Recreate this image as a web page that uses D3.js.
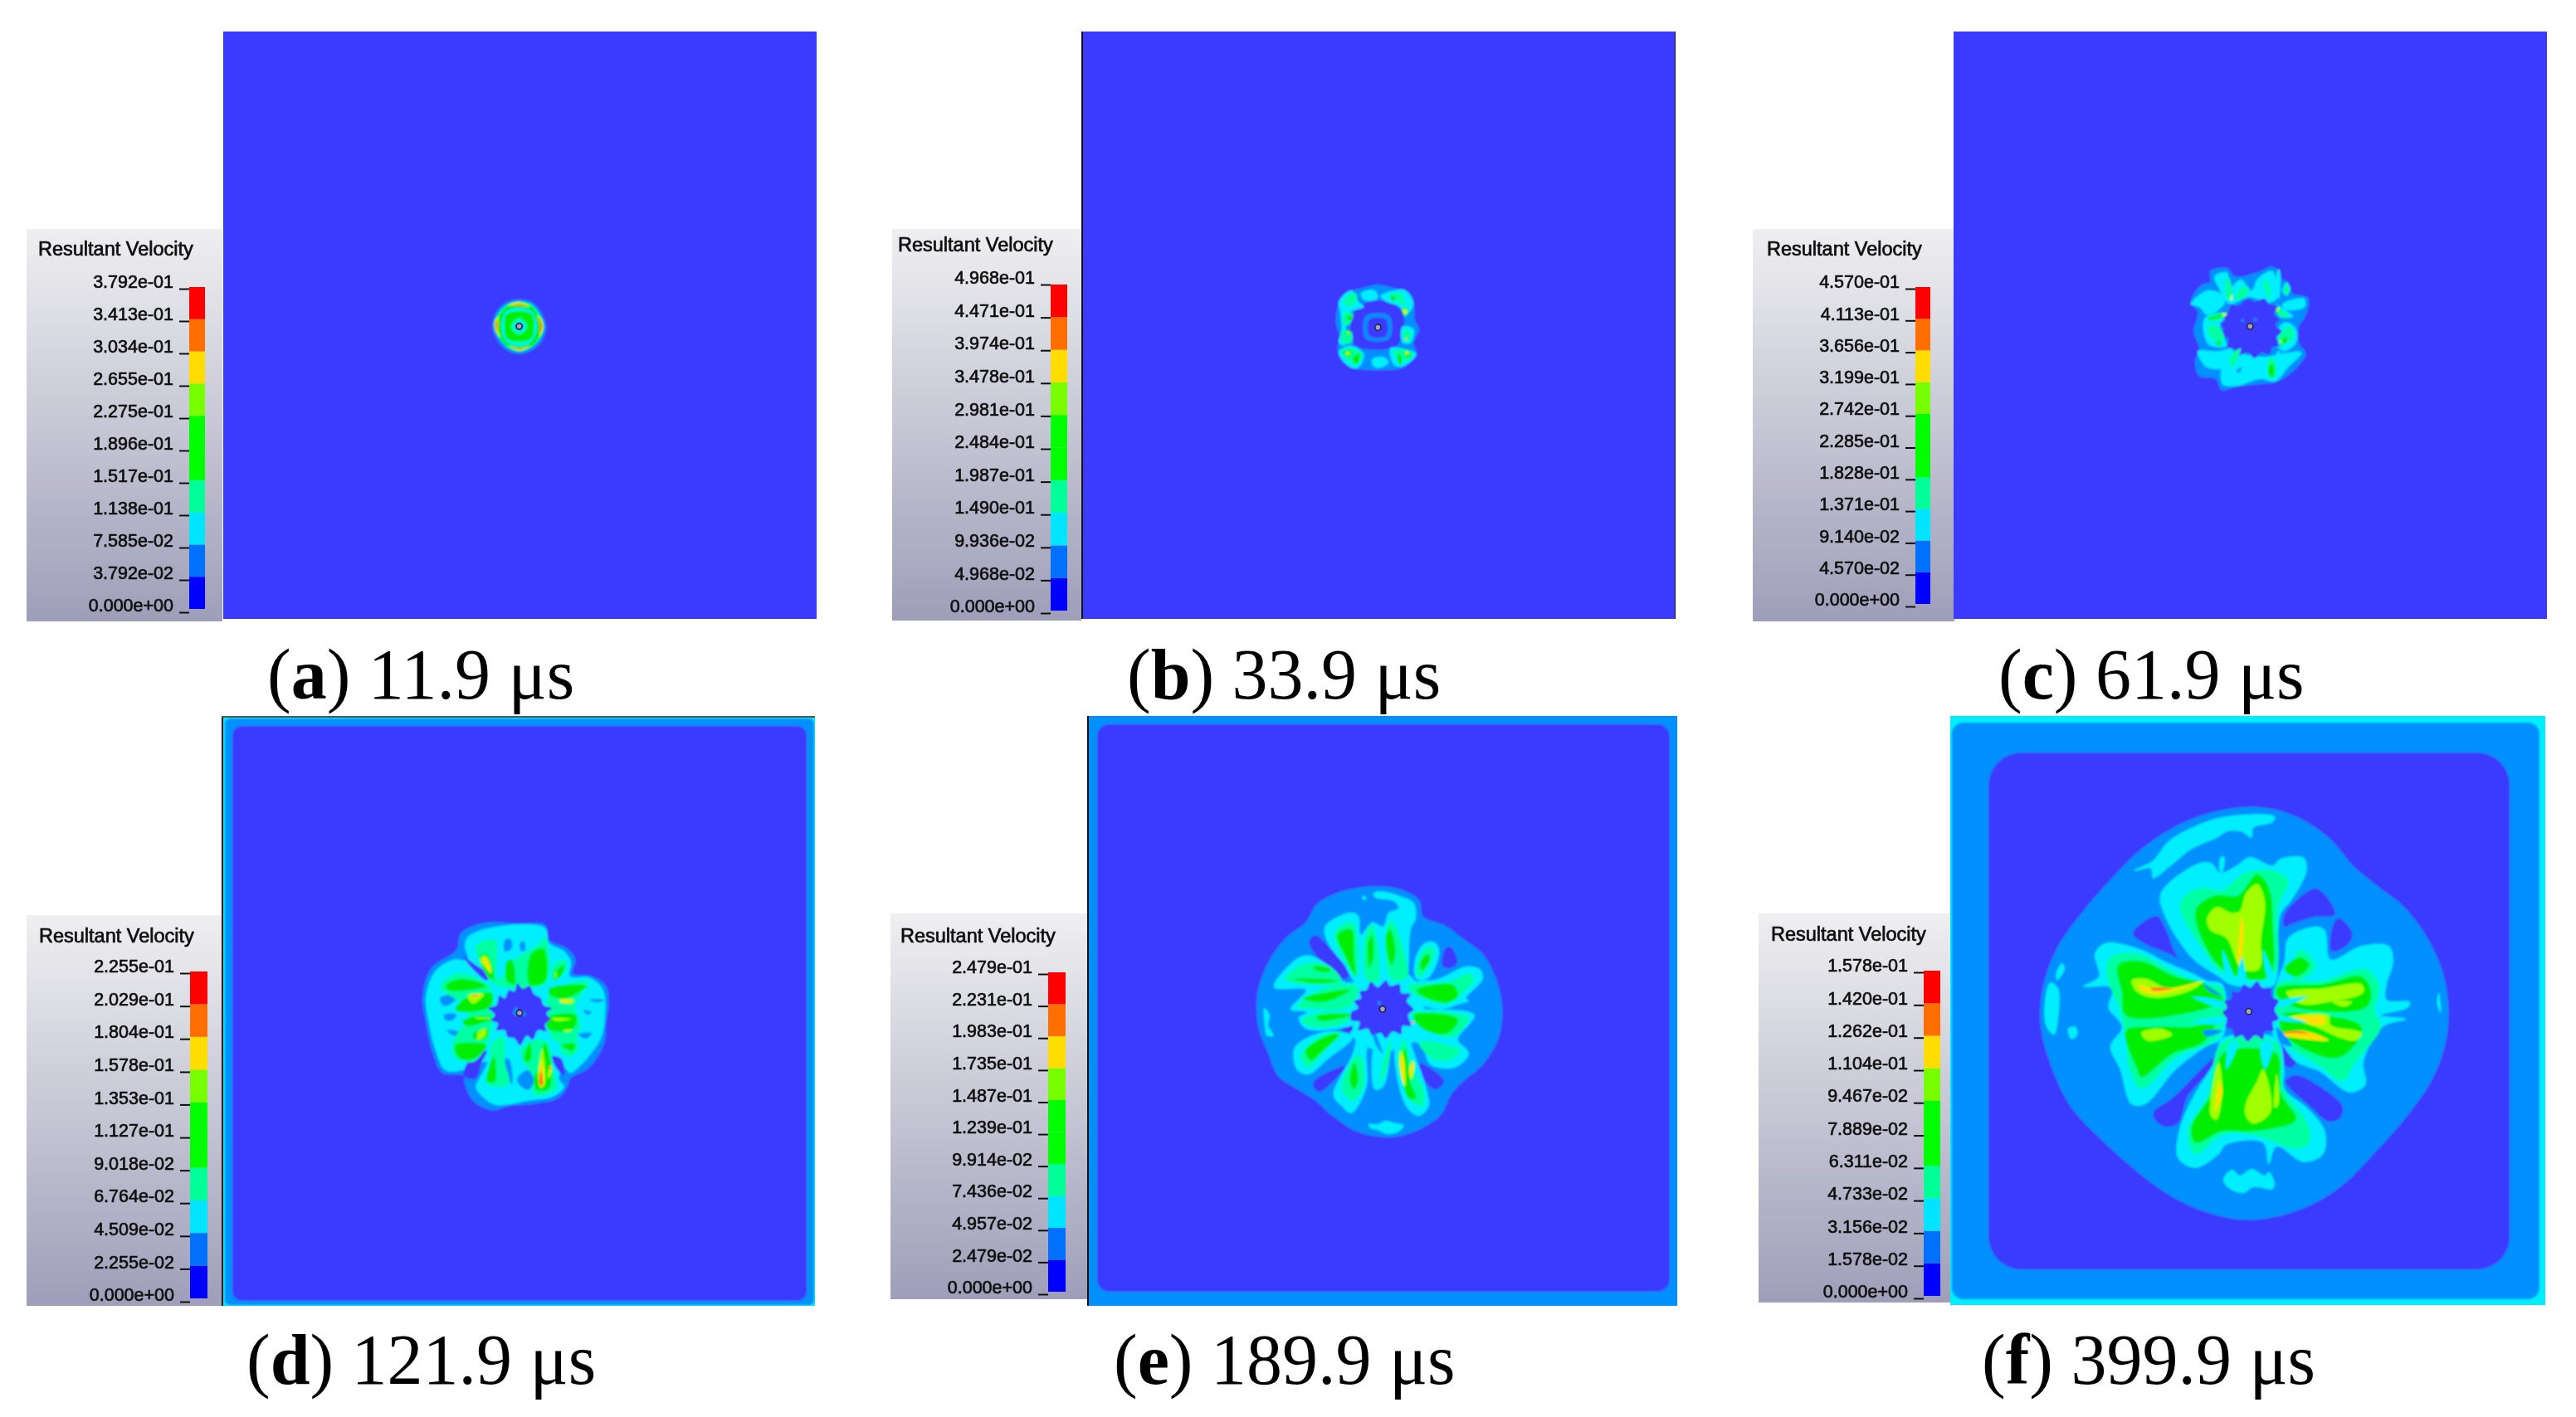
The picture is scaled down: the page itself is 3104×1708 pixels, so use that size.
<!DOCTYPE html>
<html>
<head>
<meta charset="utf-8">
<title>Resultant velocity</title>
<script src="https://cdn.jsdelivr.net/npm/d3@7"></script>
<style>
  body { margin: 0; background: #fff; }
  svg { display: block; }
</style>
</head>
<body>
<div id="chart"></div>
<script>
// legend labels, top to bottom
const labelsA = ["3.792e-01","3.413e-01","3.034e-01","2.655e-01","2.275e-01","1.896e-01","1.517e-01","1.138e-01","7.585e-02","3.792e-02","0.000e+00"];
const labelsB = ["4.968e-01","4.471e-01","3.974e-01","3.478e-01","2.981e-01","2.484e-01","1.987e-01","1.490e-01","9.936e-02","4.968e-02","0.000e+00"];
const labelsC = ["4.570e-01","4.113e-01","3.656e-01","3.199e-01","2.742e-01","2.285e-01","1.828e-01","1.371e-01","9.140e-02","4.570e-02","0.000e+00"];
const labelsD = ["2.255e-01","2.029e-01","1.804e-01","1.578e-01","1.353e-01","1.127e-01","9.018e-02","6.764e-02","4.509e-02","2.255e-02","0.000e+00"];
const labelsE = ["2.479e-01","2.231e-01","1.983e-01","1.735e-01","1.487e-01","1.239e-01","9.914e-02","7.436e-02","4.957e-02","2.479e-02","0.000e+00"];
const labelsF = ["1.578e-01","1.420e-01","1.262e-01","1.104e-01","9.467e-02","7.889e-02","6.311e-02","4.733e-02","3.156e-02","1.578e-02","0.000e+00"];

const letters = ["a", "b", "c", "d", "e", "f"];
const times = ["11.9", "33.9", "61.9", "121.9", "189.9", "399.9"];

// legend cells, lowest band first
const legendColors = ["#0000ff","#0070ff","#00e5ff","#00ff99","#00ff00","#00ff00","#77ff00","#ffdd00","#ff6e00","#ff0000"];
// band colours as they look on the lit plate, 0 = rest
const bandColors = ["#3a3aff","#0090ff","#00eeff","#00ffa0","#00ee00","#a0ff00","#ffe000","#ff7a20","#ff3030"];

// contour outlines per frame: band, then x,y pairs in trace units, painted in order
const contoursA = [
  [1, 197,63, 245,74, 275,108, 294,160, 280,210, 243,246, 197,260, 152,246, 118,210, 100,160, 115,108, 150,74],
  [3, 197,70, 240,80, 268,112, 286,160, 272,205, 238,238, 197,252, 156,238, 126,205, 108,160, 122,112, 156,80],
  [4, 150,92, 197,76, 245,92, 262,118, 278,160, 268,200, 240,232, 197,246, 155,232, 128,200, 112,160, 128,118],
  [2, 197,92, 240,105, 262,160, 240,215, 197,232, 152,215, 132,160, 152,105],
  [3, 197,100, 234,112, 254,160, 234,208, 197,224, 158,208, 140,160, 158,112],
  [4, 150,118, 197,106, 244,118, 250,160, 242,204, 197,214, 152,204, 144,160],
  [3, 197,128, 228,160, 197,192, 166,160],
  [2, 197,140, 218,160, 197,181, 176,160],
  [1, 197,146, 212,160, 197,175, 182,160],
  [5, 155,85, 195,72, 238,90, 200,84],
  [6, 160,85, 195,76, 232,90, 198,82],
  [8, 170,84, 195,80, 225,88, 198,84],
  [5, 155,228, 200,240, 240,228, 200,248],
  [7, 160,232, 200,241, 232,230, 200,245],
  [5, 108,140, 122,125, 122,175, 130,200, 112,180],
  [7, 112,148, 120,138, 118,175, 124,190, 114,175],
  [5, 262,120, 275,130, 285,165, 268,200, 275,160],
  [7, 265,125, 278,150, 280,165, 270,190, 272,160]
];
const contoursB = [
  [1, 130,80, 180,70, 250,85, 295,100, 310,140, 315,200, 330,230, 310,280, 320,320, 270,370, 190,378, 90,370, 50,340, 35,300, 45,260, 30,210, 40,140, 80,95],
  [0, 100,160, 180,125, 265,160, 275,240, 250,290, 180,305, 100,290, 80,240],
  [1, 138,182, 222,182, 222,265, 138,265],
  [0, 150,195, 210,195, 210,255, 150,255],
  [2, 40,130, 85,90, 110,130, 130,150, 80,170, 65,230, 60,290, 40,280, 50,230, 45,170],
  [2, 120,100, 170,90, 180,120, 130,125],
  [2, 190,110, 240,90, 280,90, 310,140, 280,180, 260,150, 210,130],
  [2, 270,220, 310,230, 300,280, 270,280],
  [2, 40,310, 80,290, 130,320, 110,370, 85,370, 50,340],
  [2, 225,300, 270,300, 320,320, 270,365, 240,360],
  [2, 160,340, 200,330, 220,350, 190,370, 165,365],
  [3, 60,120, 100,100, 105,130, 70,150],
  [3, 220,110, 265,100, 280,145, 250,130],
  [3, 60,170, 90,175, 75,215, 55,210],
  [3, 50,235, 85,240, 85,280, 55,280],
  [3, 270,150, 295,160, 280,185],
  [3, 45,310, 90,300, 125,320, 100,360],
  [3, 275,235, 300,240, 295,275, 275,270],
  [3, 235,310, 290,305, 310,325, 270,350],
  [4, 55,312, 88,310, 78,328],
  [4, 68,183, 92,186, 76,199],
  [4, 68,238, 84,241, 73,252],
  [4, 225,110, 245,115, 235,130],
  [4, 268,158, 287,160, 276,182],
  [4, 90,335, 115,320, 105,360],
  [4, 250,325, 265,325, 262,365],
  [4, 278,310, 300,320, 285,332],
  [5, 64,314, 82,316, 70,323],
  [5, 270,160, 287,164, 278,177],
  [6, 66,315, 80,317, 71,321],
  [6, 272,162, 285,165, 278,174],
  [6, 72,240, 80,243, 74,246],
  [7, 280,262, 288,265, 284,271],
  [6, 281,311, 293,318, 285,323]
];
const contoursC = [
  [1, 70,50, 130,40, 160,70, 240,55, 300,35, 330,80, 350,90, 365,130, 425,150, 410,220, 390,250, 390,310, 415,350, 360,420, 310,450, 240,460, 160,470, 110,480, 90,440, 30,430, 15,380, 30,330, 10,270, 25,200, 0,160, 40,100, 70,90],
  [2, 85,70, 130,55, 140,110, 180,80, 220,120, 240,80, 295,50, 310,150, 280,165, 210,145, 140,170, 100,110],
  [2, 0,170, 60,120, 120,140, 120,170, 60,210, 30,180],
  [2, 330,170, 410,150, 412,180, 340,190],
  [2, 320,250, 345,235, 380,260, 380,310, 340,340, 310,320],
  [2, 330,120, 345,90, 360,115, 345,140],
  [2, 25,340, 100,340, 150,330, 120,400, 60,400, 40,380],
  [2, 50,220, 120,210, 105,260, 130,320, 70,320, 50,290],
  [2, 110,400, 130,340, 190,350, 270,360, 320,350, 400,345, 350,400, 305,450, 250,440, 170,465, 115,460],
  [2, 305,170, 340,190, 370,215, 320,215],
  [2, 313,45, 320,45, 318,150, 313,150],
  [2, 313,340, 320,340, 318,425, 313,425],
  [0, 105,240, 125,225, 110,200, 135,195, 145,170, 170,175, 205,150, 230,160, 265,150, 285,170, 315,175, 300,205, 320,225, 305,245, 330,270, 310,290, 325,320, 295,325, 285,350, 255,345, 230,365, 205,345, 170,355, 160,335, 130,325, 135,295, 100,280, 118,260],
  [1, 180,225, 195,228, 185,235],
  [1, 232,218, 240,228, 225,232],
  [1, 175,402, 185,398, 172,420, 165,410],
  [3, 125,100, 135,70, 150,140, 130,150],
  [3, 180,110, 210,110, 190,150, 160,150],
  [3, 260,100, 275,80, 290,150],
  [3, 60,215, 130,200, 110,225, 70,230],
  [3, 60,250, 100,250, 120,300, 80,300],
  [3, 320,280, 360,250, 370,290, 320,320],
  [3, 275,380, 295,360, 310,420, 290,440],
  [3, 310,180, 335,195, 360,215, 320,215],
  [3, 140,360, 180,330, 150,400],
  [3, 335,110, 350,100, 355,125, 340,135],
  [4, 60,225, 120,205, 105,217, 70,227],
  [4, 90,310, 110,305, 105,322],
  [4, 325,300, 350,290, 340,312],
  [4, 280,400, 295,385, 300,430, 285,430],
  [4, 308,183, 325,195, 312,200],
  [5, 112,204, 132,207, 118,213],
  [5, 142,152, 150,135, 149,157],
  [6, 143,150, 148,138, 148,154],
  [6, 114,206, 130,208, 118,211],
  [6, 311,192, 318,184, 316,197],
  [5, 319,303, 331,300, 322,310]
];
const contoursD = [
  [1, 330,35, 430,40, 530,45, 545,100, 610,130, 640,170, 630,220, 700,230, 750,265, 760,320, 750,410, 745,470, 690,560, 620,600, 615,620, 580,670, 500,690, 400,700, 340,715, 270,680, 240,620, 235,590, 160,580, 125,510, 100,400, 88,300, 120,200, 210,135, 225,75, 280,45],
  [2, 250,90, 330,55, 530,55, 545,110, 600,140, 625,180, 620,230, 690,235, 740,280, 745,400, 730,460, 680,530, 620,580, 600,560, 580,600, 600,630, 560,665, 470,680, 350,695, 290,650, 280,630, 320,540, 235,570, 170,570, 135,500, 110,400, 100,300, 135,210, 200,170, 250,170, 240,120],
  [1, 150,310, 200,295, 220,300, 180,335, 160,335],
  [1, 165,370, 210,368, 195,390, 170,388],
  [1, 175,425, 220,430, 245,440, 215,448, 190,440],
  [1, 385,100, 405,95, 410,130, 385,140],
  [1, 440,110, 455,105, 458,135, 445,140],
  [1, 690,315, 745,315, 720,325],
  [1, 670,352, 700,362, 680,368],
  [1, 650,440, 700,435, 680,455],
  [1, 430,600, 470,570, 490,610, 470,640, 440,625],
  [1, 385,530, 400,530, 412,620, 395,600],
  [0, 236,160, 280,190, 330,230, 320,245, 270,205],
  [0, 235,590, 260,530, 320,500, 300,545, 280,600],
  [0, 555,520, 590,530, 600,590, 570,560],
  [3, 280,120, 350,100, 360,240, 400,200, 420,170, 500,120, 530,90, 535,255, 350,260, 300,190],
  [3, 560,190, 600,170, 610,200, 560,250],
  [3, 545,290, 690,250, 660,300, 640,340, 660,400, 650,440, 640,470, 560,460, 545,400],
  [3, 580,480, 650,470, 640,510, 610,520],
  [3, 150,270, 215,220, 330,265, 345,320, 340,400, 320,480, 270,540, 200,520, 200,460, 250,380, 230,330],
  [3, 340,470, 380,450, 385,540, 400,620, 320,620, 330,550],
  [3, 440,500, 500,460, 540,470, 560,560, 570,640, 490,660, 480,590],
  [1, 430,600, 470,570, 490,610, 470,640, 440,625],
  [4, 295,160, 320,150, 345,245, 320,225, 300,190],
  [4, 390,180, 410,170, 420,260, 395,250],
  [4, 480,150, 525,130, 530,250, 475,260],
  [4, 565,215, 600,190, 590,225, 565,240],
  [4, 170,265, 225,240, 320,265, 260,280, 180,280],
  [4, 205,350, 260,300, 340,295, 330,340, 250,360],
  [4, 230,395, 280,375, 340,380, 300,400, 250,410],
  [4, 270,440, 320,420, 320,450, 280,460],
  [4, 205,480, 260,470, 320,480, 270,530, 220,525],
  [4, 545,275, 680,265, 650,290, 600,310, 550,300],
  [4, 540,380, 640,370, 640,410, 600,430, 540,420],
  [4, 590,480, 640,475, 630,500],
  [4, 320,610, 345,520, 350,610],
  [4, 455,530, 475,470, 480,530, 465,540],
  [4, 490,600, 510,560, 530,470, 555,590, 540,640, 500,640],
  [5, 295,170, 315,155, 335,195, 335,220, 315,200],
  [5, 250,300, 310,295, 270,330],
  [5, 290,430, 315,420, 315,445, 285,460],
  [5, 580,315, 635,315, 630,328, 590,325],
  [5, 555,382, 625,385, 570,392],
  [5, 595,425, 630,422, 610,432],
  [5, 275,380, 340,382, 290,385],
  [5, 505,600, 520,490, 530,620, 515,635],
  [5, 540,590, 550,550, 555,570, 545,600],
  [5, 565,230, 572,212, 570,235],
  [6, 305,165, 320,170, 335,215, 315,190],
  [6, 265,300, 300,295, 270,310],
  [6, 585,318, 632,318, 590,326],
  [6, 560,384, 620,385],
  [6, 510,610, 518,530, 525,625],
  [6, 545,570, 550,555, 552,575],
  [7, 268,302, 290,297, 272,305],
  [7, 510,620, 516,570, 522,625],
  [7, 545,565, 550,553, 552,570],
  [0, 335,390, 350,370, 325,345, 355,335, 365,300, 385,310, 400,280, 420,285, 430,255, 450,275, 475,265, 490,295, 515,310, 525,335, 555,345, 535,365, 550,385, 530,405, 535,430, 505,425, 485,460, 465,445, 440,480, 420,455, 395,450, 385,425, 355,425, 360,400],
  [1, 415,365, 425,340, 432,365, 425,372],
  [1, 445,365, 455,358, 462,372, 450,372]
];
const contoursE = [
  [1, 480,85, 560,95, 630,135, 645,195, 720,225, 790,275, 860,330, 900,400, 925,480, 930,560, 915,640, 860,730, 790,790, 745,840, 710,910, 640,960, 550,990, 480,990, 400,970, 310,910, 255,860, 200,825, 120,770, 85,690, 50,600, 42,520, 50,450, 90,350, 150,270, 220,215, 260,150, 330,110, 410,90],
  [0, 232,285, 255,262, 310,310, 385,395, 360,420, 290,370, 240,310],
  [0, 725,310, 745,305, 768,360, 745,380, 715,375],
  [0, 250,790, 340,740, 365,735, 320,790, 270,828, 250,815],
  [0, 630,725, 650,730, 720,790, 690,820, 650,790],
  [2, 498,385, 600,410, 650,530, 620,640, 498,680, 400,640, 350,530, 400,420],
  [0, 350,590, 390,590, 385,610, 360,615],
  [2, 290,230, 380,180, 410,190, 420,260, 460,215, 500,230, 520,180, 555,165, 540,140, 470,125, 465,110, 490,103, 560,120, 610,145, 618,200, 600,240, 590,400, 580,430, 400,430, 360,370, 300,290],
  [2, 615,350, 650,290, 690,290, 703,330, 660,420, 620,420],
  [2, 590,440, 700,420, 800,375, 850,385, 860,420, 800,490, 810,500, 780,510, 700,530, 600,490],
  [2, 600,545, 700,530, 830,550, 780,620, 770,640, 810,690, 760,740, 670,730, 640,660, 600,640],
  [2, 105,450, 190,345, 235,335, 300,370, 320,395, 360,430, 430,440, 410,490, 390,530, 400,550, 400,580, 340,600, 220,600, 195,560, 225,540, 165,530, 220,460],
  [2, 175,700, 185,660, 270,615, 340,610, 390,630, 300,710, 230,765, 190,750],
  [2, 320,840, 390,690, 410,620, 440,610, 440,700, 440,810, 385,905, 350,880],
  [2, 460,700, 480,630, 530,630, 525,700, 500,810, 470,820],
  [2, 545,650, 580,620, 620,710, 660,830, 665,880, 630,915, 590,890, 555,800],
  [2, 70,525, 90,550, 85,590, 105,625, 80,625, 72,590],
  [2, 447,945, 480,945, 510,932, 540,940, 575,950, 550,975, 510,980, 480,965, 455,960],
  [2, 425,120, 440,125, 435,135, 425,130],
  [3, 325,250, 390,215, 405,410, 370,370],
  [3, 435,260, 460,225, 480,290, 480,430, 440,420],
  [3, 510,240, 530,210, 570,300, 585,415, 530,420],
  [3, 145,420, 215,365, 300,370, 350,430, 220,440],
  [3, 190,520, 230,480, 340,440, 410,450, 380,520, 330,530, 260,530],
  [3, 205,570, 270,540, 400,550, 330,590, 230,590],
  [3, 200,700, 270,630, 350,615, 290,680, 230,740],
  [3, 350,820, 400,700, 420,700, 430,810, 390,860],
  [3, 500,720, 530,640, 520,720, 490,800],
  [3, 555,700, 575,640, 610,750, 650,830, 640,880, 600,860],
  [3, 620,390, 650,310, 685,310, 670,370, 630,415],
  [3, 590,445, 740,430, 810,400, 830,420, 790,470, 730,510, 610,475],
  [3, 600,545, 810,560, 750,630, 670,610],
  [3, 630,650, 700,650, 780,680, 750,710, 680,710],
  [4, 335,260, 385,240, 395,340, 400,410, 365,340],
  [4, 445,290, 460,260, 465,340, 450,380],
  [4, 510,270, 525,240, 545,320, 530,370],
  [4, 250,375, 310,385, 300,395, 250,385],
  [4, 175,420, 340,425, 290,435, 210,430],
  [4, 210,490, 290,470, 380,460, 300,500, 240,500],
  [4, 260,555, 390,548, 330,565, 270,570],
  [4, 220,680, 300,625, 340,620, 270,690, 240,715],
  [4, 380,790, 395,720, 410,780, 395,820],
  [4, 570,720, 580,670, 600,800, 620,850, 590,850],
  [4, 635,360, 660,330, 670,345, 640,390],
  [4, 620,460, 750,440, 770,480, 730,505, 640,480],
  [4, 610,550, 770,565, 745,610, 700,620, 630,590],
  [5, 562,680, 572,690, 580,810, 570,790, 558,730],
  [5, 593,760, 605,715, 614,725, 602,785],
  [6, 565,700, 571,700, 577,805, 568,780],
  [6, 596,755, 605,722, 610,728, 600,778],
  [7, 600,575, 615,577, 602,582],
  [0, 385,540, 410,525, 395,500, 420,490, 415,465, 440,460, 455,430, 480,450, 510,425, 525,445, 560,440, 565,470, 600,475, 585,500, 610,530, 590,550, 600,590, 570,590, 565,620, 535,610, 510,635, 490,615, 460,625, 445,600, 410,605, 415,575, 385,570],
  [1, 480,500, 492,505, 485,515],
  [1, 470,615, 490,660, 500,690, 480,670, 465,630]
];
const contoursF = [
  [1, 708,220, 780,228, 850,255, 920,305, 980,375, 1040,425, 1110,480, 1170,560, 1210,650, 1225,750, 1215,840, 1180,930, 1110,1030, 1030,1120, 950,1200, 860,1255, 760,1285, 680,1288, 600,1270, 510,1230, 420,1165, 330,1085, 250,1000, 200,900, 170,790, 175,690, 210,590, 280,490, 350,410, 430,330, 520,270, 610,235],
  [0, 800,500, 840,455, 880,432, 915,460, 930,500, 880,505, 830,520, 800,530],
  [0, 920,590, 925,530, 940,508, 975,545, 970,570, 930,595],
  [0, 408,548, 470,503, 490,530, 525,610, 555,628, 500,600, 440,575],
  [0, 462,1010, 510,975, 600,885, 630,860, 600,910, 550,970, 525,1040, 490,1048, 465,1030],
  [0, 803,930, 830,915, 900,950, 950,995, 945,1025, 915,1035, 860,990, 815,950],
  [0, 780,840, 835,860, 820,895, 790,880],
  [2, 410,385, 460,360, 500,310, 570,270, 650,245, 775,245, 770,260, 720,275, 715,300, 690,285, 650,285, 630,298, 560,330, 510,370, 460,405, 455,380, 420,385],
  [2, 195,675, 215,690, 215,770, 205,810, 185,790, 180,730],
  [2, 240,795, 260,790, 265,810, 250,822],
  [2, 225,625, 232,640, 212,670, 210,650],
  [2, 1200,700, 1205,755, 1195,730],
  [2, 642,1185, 665,1160, 685,1175, 715,1158, 750,1175, 760,1165, 775,1195, 770,1210, 720,1205, 695,1220, 660,1210],
  [2, 635,350, 645,350, 640,390, 633,385],
  [2, 480,445, 570,370, 610,365, 635,390, 680,370, 710,350, 770,372, 790,355, 850,352, 858,385, 820,460, 790,500, 775,680, 740,690, 660,680, 630,660, 560,610, 490,500],
  [2, 810,560, 880,530, 905,540, 920,615, 1000,580, 1070,580, 1082,620, 1065,680, 1065,720, 1125,725, 1120,740, 1050,760, 1115,770, 1055,790, 1005,880, 1010,940, 970,960, 890,905, 830,880, 790,830, 770,810, 780,680, 800,620],
  [2, 640,820, 780,820, 800,900, 800,950, 860,1000, 905,1060, 900,1120, 850,1140, 780,1100, 760,1145, 745,1090, 650,1095, 630,1120, 570,1155, 525,1130, 530,1050, 570,960, 620,880],
  [2, 640,680, 640,820, 600,840, 520,900, 440,990, 405,990, 375,900, 350,840, 380,790, 345,740, 355,690, 280,685, 320,660, 310,600, 340,572, 430,590, 490,620, 560,650, 600,670],
  [3, 530,470, 580,430, 640,435, 700,390, 770,385, 810,410, 785,480, 770,660, 640,650, 590,590],
  [3, 820,640, 840,590, 870,610, 880,640, 830,670],
  [3, 780,680, 900,670, 1010,640, 1045,680, 1035,750, 1050,790, 985,880, 950,930, 890,890, 800,830, 785,780],
  [3, 640,830, 780,830, 800,950, 860,1040, 865,1090, 830,1105, 720,1070, 640,1070, 570,1120, 550,1060, 600,970],
  [3, 640,690, 630,815, 520,870, 430,950, 400,900, 390,820, 375,750, 340,650, 350,610, 420,600, 520,650, 590,680],
  [4, 570,490, 620,450, 680,450, 730,395, 760,430, 770,520, 760,660, 640,640],
  [4, 370,630, 430,620, 520,660, 600,680, 640,720, 520,760, 390,760, 380,700],
  [4, 390,800, 470,790, 560,790, 620,780, 590,830, 510,860, 430,920, 420,900],
  [4, 780,690, 900,680, 1000,660, 1025,700, 1010,740, 850,745, 790,720],
  [4, 790,760, 900,760, 1000,790, 960,860, 910,870, 800,810],
  [4, 640,860, 780,860, 790,960, 830,1030, 720,1060, 640,1060, 570,1090, 560,1050, 620,950],
  [4, 800,640, 840,610, 865,630, 830,660],
  [5, 600,510, 625,480, 665,495, 685,490, 700,445, 730,420, 750,465, 740,560, 735,640, 690,640, 650,560, 610,540],
  [5, 405,670, 440,665, 500,690, 590,672, 560,695, 470,715, 420,700],
  [5, 430,805, 480,795, 510,810, 470,825, 445,825],
  [5, 805,700, 900,690, 1000,680, 1005,700, 920,725, 840,730],
  [5, 925,725, 975,725, 955,738],
  [5, 810,765, 915,760, 920,785, 1000,805, 985,825, 950,820, 880,790],
  [5, 700,990, 730,930, 745,900, 765,1010, 720,1040, 700,1020],
  [5, 610,1020, 630,880, 640,950, 625,1030],
  [5, 775,1000, 780,910, 785,990],
  [6, 425,680, 470,695, 585,673, 520,695, 465,705, 430,695],
  [6, 680,620, 690,505, 695,530, 685,640],
  [6, 820,765, 905,765, 900,785],
  [6, 790,810, 850,800, 915,825, 880,825],
  [6, 620,1010, 633,930, 640,960],
  [7, 455,690, 510,690, 460,696],
  [7, 785,808, 830,800, 865,808, 820,806],
  [2, 640,740, 560,712, 640,725],
  [2, 640,780, 560,778, 640,765],
  [2, 780,740, 860,712, 780,725],
  [2, 780,760, 860,778, 780,770],
  [2, 655,670, 640,590, 670,670],
  [2, 760,670, 745,590, 775,670],
  [2, 680,680, 690,610, 700,680],
  [2, 660,830, 650,900, 680,830],
  [2, 740,830, 750,900, 770,830],
  [1, 590,800, 640,800, 600,815],
  [1, 780,790, 820,840, 790,830],
  [1, 610,700, 640,710, 590,680],
  [0, 640,752, 652,740, 645,722, 662,718, 665,698, 682,700, 695,680, 712,688, 730,672, 742,688, 765,690, 768,712, 785,722, 775,745, 785,770, 770,778, 772,800, 750,802, 745,822, 725,812, 705,828, 690,812, 672,818, 665,798, 648,790, 652,770]
];

// plate dims and layout, one entry per frame
const frames = [
  { labels: labelsA, contours: contoursA, plate: [269, 984, 38, 746], domX: [-873, 1272], domY: [-906, 1218], centre: [197, 160],
    back: 0, rims: [],
    box: [32, 268, 276, 749], titleAt: [46, 308], bar: [228, 247, 346, 734], tick: [348, 738] },
  { labels: labelsB, contours: contoursB, plate: [1303, 2019, 38, 746], domX: [-891, 1257], domY: [-846, 1278], centre: [181, 224],
    back: 0, rims: [], edge: "#111", edgeRight: true,
    box: [1075, 1303, 276, 748], titleAt: [1082, 303], bar: [1266, 1286, 343, 736], tick: [343, 739] },
  { labels: labelsC, contours: contoursC, plate: [2354, 3069, 38, 746], domX: [-858, 1287], domY: [-816, 1308], centre: [214, 250],
    back: 0, rims: [],
    box: [2112, 2355, 276, 749], titleAt: [2129, 308], bar: [2308, 2326, 346, 728], tick: [348, 731] },
  { labels: labelsD, contours: contoursD, plate: [267, 982, 863, 1574], domX: [-639, 1506], domY: [-711, 1422], centre: [438, 363],
    back: 2, rims: [[1, -627, 1503, -702, 1420, 18], [0, -600, 1476, -675, 1404, 36]], edge: "#111", edgeTop: "#555",
    box: [32, 267, 1103, 1574], titleAt: [47, 1136], bar: [229, 250, 1171, 1565], tick: [1173, 1569] },
  { labels: labelsE, contours: contoursE, plate: [1310, 2021, 863, 1574], domX: [-570, 1563], domY: [-531, 1602], centre: [498, 529],
    back: 1, rims: [[0, -534, 1536, -501, 1551, 45]], edge: "#111",
    box: [1073, 1310, 1101, 1566], titleAt: [1085, 1136], bar: [1263, 1284, 1172, 1557], tick: [1174, 1560] },
  { labels: labelsF, contours: contoursF, plate: [2350, 3067, 863, 1573], domX: [-64, 1475], domY: [-15, 1510], centre: [708, 750],
    back: 2, rims: [[1, -60, 1460, 2, 1495, 30], [0, 35, 1383, 80, 1418, 85]],
    box: [2119, 2350, 1101, 1570], titleAt: [2134, 1134], bar: [2318, 2338, 1170, 1562], tick: [1172, 1565] }
];
const captionX = [322, 1358, 2408, 297, 1342, 2388];
const captionY = [842, 842, 842, 1668, 1668, 1668];

const svg = d3.select("#chart").append("svg")
  .attr("width", 3104)
  .attr("height", 1708)
  .attr("viewBox", "0 0 3104 1708");

const defs = svg.append("defs");
defs.append("filter").attr("id", "soft").append("feGaussianBlur").attr("stdDeviation", 0.8);
defs.append("filter").attr("id", "softText").append("feGaussianBlur").attr("stdDeviation", 0.55);
const grad = defs.append("linearGradient").attr("id", "legendBack").attr("x1", 0).attr("x2", 0).attr("y1", 0).attr("y2", 1);
grad.append("stop").attr("offset", 0).attr("stop-color", "#efeff1");
grad.append("stop").attr("offset", 1).attr("stop-color", "#9e9eb9");

// split a [band, x, y, x, y ...] row into its points
function toPoints(row) {
  return d3.range(1, row.length, 2).map(i => [row[i], row[i + 1]]);
}

function drawPlate(f, i) {
  const x = d3.scaleLinear().domain(f.domX).range([f.plate[0], f.plate[1]]);
  const y = d3.scaleLinear().domain(f.domY).range([f.plate[2], f.plate[3]]);
  const clipId = "plate" + i;
  defs.append("clipPath").attr("id", clipId).append("rect")
    .attr("x", f.plate[0]).attr("y", f.plate[2])
    .attr("width", f.plate[1] - f.plate[0]).attr("height", f.plate[3] - f.plate[2]);

  const g = svg.append("g").attr("clip-path", `url(#${clipId})`);
  const field = g.append("g").attr("filter", "url(#soft)");

  field.append("rect")
    .attr("x", f.plate[0] - 5).attr("y", f.plate[2] - 5)
    .attr("width", f.plate[1] - f.plate[0] + 10).attr("height", f.plate[3] - f.plate[2] + 10)
    .attr("fill", bandColors[f.back]);

  field.selectAll("rect.rim")
    .data(f.rims)
    .join("rect")
    .attr("class", "rim")
    .attr("x", d => x(d[1])).attr("width", d => x(d[2]) - x(d[1]))
    .attr("y", d => y(d[3])).attr("height", d => y(d[4]) - y(d[3]))
    .attr("rx", d => x(d[5]) - x(0))
    .attr("fill", d => bandColors[d[0]]);

  const outline = d3.line()
    .x(d => x(d[0]))
    .y(d => y(d[1]))
    .curve(d3.curveCatmullRomClosed.alpha(0.5));

  field.selectAll("path")
    .data(f.contours)
    .join("path")
    .attr("d", d => outline(toPoints(d)))
    .attr("fill", d => bandColors[d[0]]);

  // the projectile hole in the middle
  g.append("circle")
    .attr("cx", x(f.centre[0])).attr("cy", y(f.centre[1]))
    .attr("r", 3.6)
    .attr("fill", "#a6a6b4")
    .attr("stroke", "#20204a")
    .attr("stroke-width", 1.6);

  if (f.edge) {
    g.append("line").attr("x1", f.plate[0] + 1).attr("x2", f.plate[0] + 1)
      .attr("y1", f.plate[2]).attr("y2", f.plate[3])
      .attr("stroke", f.edge).attr("stroke-width", 2);
  }
  if (f.edgeRight) {
    g.append("line").attr("x1", f.plate[1] - 0.5).attr("x2", f.plate[1] - 0.5)
      .attr("y1", f.plate[2]).attr("y2", f.plate[3])
      .attr("stroke", f.edge).attr("stroke-width", 1);
  }
  if (f.edgeTop) {
    g.append("line").attr("x1", f.plate[0]).attr("x2", f.plate[1])
      .attr("y1", f.plate[2] + 1).attr("y2", f.plate[2] + 1)
      .attr("stroke", f.edgeTop).attr("stroke-width", 2);
  }
}

function drawLegend(f) {
  const values = f.labels.map(Number);
  const max = d3.max(values);
  const barY = d3.scaleLinear().domain([0, max]).range([f.bar[3], f.bar[2]]);
  const tickY = d3.scaleLinear().domain([0, max]).range([f.tick[1], f.tick[0]]);
  const g = svg.append("g");

  g.append("rect")
    .attr("x", f.box[0]).attr("y", f.box[2])
    .attr("width", f.box[1] - f.box[0]).attr("height", f.box[3] - f.box[2])
    .attr("fill", "url(#legendBack)");

  const cells = values.slice().reverse();
  g.selectAll("rect.cell")
    .data(legendColors)
    .join("rect")
    .attr("class", "cell")
    .attr("x", f.bar[0])
    .attr("width", f.bar[1] - f.bar[0])
    .attr("y", (d, i) => barY(cells[i + 1]))
    .attr("height", (d, i) => barY(cells[i]) - barY(cells[i + 1]))
    .attr("fill", d => d);

  const ink = g.append("g").attr("filter", "url(#softText)");

  ink.append("text")
    .attr("x", f.titleAt[0]).attr("y", f.titleAt[1])
    .attr("font-family", "Liberation Sans")
    .attr("font-size", 23.5)
    .attr("fill", "#111")
    .attr("stroke", "#111").attr("stroke-width", 0.7)
    .text("Resultant Velocity");

  const axis = d3.axisLeft(tickY)
    .tickValues(values)
    .tickSize(12)
    .tickPadding(7)
    .tickFormat((d, i) => f.labels[i]);

  const ag = ink.append("g")
    .attr("transform", `translate(${f.bar[0]},0)`)
    .call(axis);
  ag.select(".domain").remove();
  ag.selectAll("line").attr("stroke", "#111").attr("stroke-width", 2);
  ag.selectAll("text")
    .attr("y", -9)
    .attr("dy", "0.36em")
    .attr("font-family", "Liberation Sans")
    .attr("font-size", 21.5)
    .attr("fill", "#111")
    .attr("stroke", "#111").attr("stroke-width", 0.65);
}

frames.forEach((f, i) => {
  drawLegend(f);
  drawPlate(f, i);
});

// captions under the frames
const cap = svg.append("g")
  .attr("font-family", "Liberation Serif")
  .attr("font-size", 86)
  .attr("fill", "#000");

const capText = cap.selectAll("text")
  .data(letters)
  .join("text")
  .attr("x", (d, i) => captionX[i])
  .attr("y", (d, i) => captionY[i]);
capText.append("tspan").text("(");
capText.append("tspan").attr("font-weight", "bold").text(d => d);
capText.append("tspan").text((d, i) => `) ${times[i]} μs`);
</script>
</body>
</html>
